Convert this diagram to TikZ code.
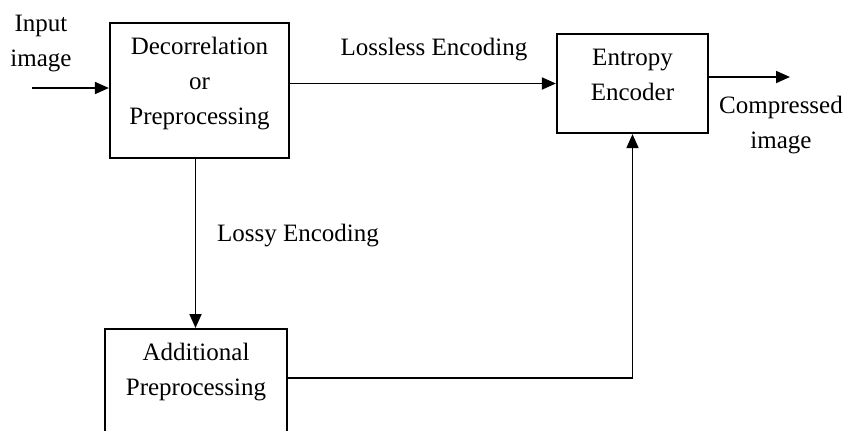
\documentclass[tikz,border=0pt]{standalone}
\usepackage{fontspec}
\setmainfont{Liberation Serif}
\usetikzlibrary{arrows.meta}

\tikzset{
  block/.style={draw, line width=1.1pt, align=center, inner sep=0pt},
  note/.style={align=center},
  flow/.style={line width=0.9pt, -{Triangle[length=7pt,width=6pt]}},
}

\begin{document}
\begin{tikzpicture}[x=0.5pt,y=-0.5pt,font=\fontsize{12.5}{17.5}\selectfont]
\useasboundingbox (0,0) rectangle (845,430);
% blocks
\node[block, minimum width=89.5pt, minimum height=67.5pt, text depth=10pt] (decor) at (199.5,90.5) {Decorrelation\\or\\Preprocessing};
\node[block, minimum width=75.5pt, minimum height=49.5pt, text depth=9pt] (entropy) at (632.5,83.5) {Entropy\\Encoder};
\node[block, anchor=north, minimum width=91pt, minimum height=56pt, text depth=16pt] (addl) at (196,328) {Additional\\Preprocessing};
% labels
\node[note] (input) at (41,44) {Input\\image};
\node[note] (compressed) at (781,125) {Compressed\\image};
\node (lossless) at (434,50) {Lossless Encoding};
\node (lossy) at (298,236) {Lossy Encoding};
\coordinate (in) at (32,88);
\coordinate (out) at (790,77);
% connectors
\draw[flow] (in) -- (in -| decor.west);
\draw[flow] (decor.east |- entropy.west) -- (entropy.west);
\draw[flow] (entropy.east |- out) -- (out);
\draw[flow] ([xshift=-2pt]decor.south) -- ([xshift=-2pt]decor.south |- addl.north);
\draw[flow] ([yshift=3.5pt]addl.east) -| (entropy.south);
\end{tikzpicture}
\end{document}
